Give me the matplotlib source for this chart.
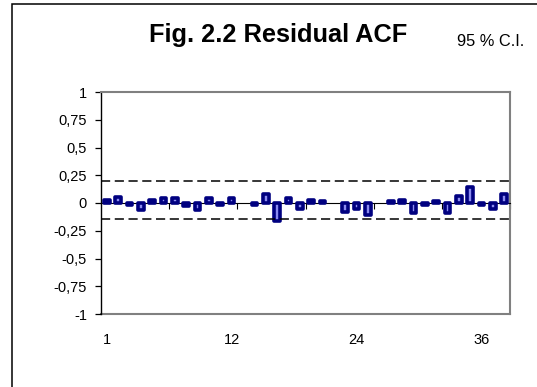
import numpy as np
import matplotlib
matplotlib.use('Agg')
import matplotlib.pyplot as plt
from matplotlib.ticker import FuncFormatter
from matplotlib.patches import Rectangle

plt.rcParams['font.family'] = ['Liberation Sans', 'DejaVu Sans']

# RESIDUAL ACF VALUES, LAGS 1..36 (nan = no bar drawn)
lags = np.arange(1, 37)
acf = [0.025, 0.05, -0.02, -0.06, 0.03, 0.045, 0.045, -0.03, -0.06, 0.045,
       -0.02, 0.045, np.nan, -0.02, 0.08, -0.16, 0.045, -0.05, 0.03, 0.02,
       np.nan, -0.08, -0.05, -0.11, np.nan, 0.02, 0.03, -0.09, -0.02, 0.02,
       -0.09, 0.065, 0.145, -0.02, -0.05, 0.08]

# 95 % CONFIDENCE BOUNDS
ci_upper = 0.2
ci_lower = -0.14

# CATEGORY LABELS (every 11th category is labelled)
label_pos = [1, 12, 23, 34]
label_txt = ['1', '12', '24', '36']

fig = plt.figure(figsize=(5.37, 3.87), dpi=100)
fig.patches.append(Rectangle((12/537, -0.05), 1.2, 1 - 4/387 + 0.05, transform=fig.transFigure,
                             fill=False, edgecolor='black', linewidth=1.1))

ax = fig.add_axes([101/537, 1 - 314/387, 409/537, 222/387])

ax.bar(lags, acf, width=0.5, color='#8c8cf0', edgecolor='#000080', linewidth=2.6,
       joinstyle='round', zorder=3)

ax.axhline(ci_upper, color='black', linewidth=1.1, dashes=(6, 3), zorder=4, clip_on=False)
ax.axhline(ci_lower, color='black', linewidth=1.1, dashes=(6, 3), zorder=4, clip_on=False)

ax.set_xlim(0.5, 36.5)
ax.set_ylim(-1, 1)
ax.set_yticks(np.arange(-1, 1.01, 0.25))
ax.yaxis.set_major_formatter(FuncFormatter(lambda v, p: ('%g' % v).replace('.', ',')))
ax.tick_params(axis='y', direction='out', length=4, width=0.9, pad=6, labelsize=10.5)

# ZERO LINE WITH TICKS BETWEEN CATEGORIES
ax.spines['bottom'].set_position(('data', 0))
ax.spines['bottom'].set_linewidth(0.8)
ax.set_xticks(np.arange(6.5, 37, 6))
ax.tick_params(axis='x', direction='out', length=4, width=0.8, labelbottom=False)

ax.spines['left'].set_linewidth(1.0)
for s in ['top', 'right']:
    ax.spines[s].set_color('#808080')
    ax.spines[s].set_linewidth(1.5)

# CATEGORY LABELS BELOW THE PLOT AREA
sec = ax.secondary_xaxis('bottom')
sec.set_xticks(label_pos)
sec.set_xticklabels(label_txt)
sec.tick_params(length=0, pad=14, labelsize=10.5)
sec.spines['bottom'].set_color('#808080')
sec.spines['bottom'].set_linewidth(1.5)

fig.text(278/537, 1 - 42/387, 'Fig. 2.2 Residual ACF', fontsize=18.3, fontweight='bold',
         ha='center', va='baseline')
fig.text(457/537, 1 - 46/387, '95 % C.I.', fontsize=11.8, ha='left', va='baseline')

plt.savefig('out.png', dpi=100)
